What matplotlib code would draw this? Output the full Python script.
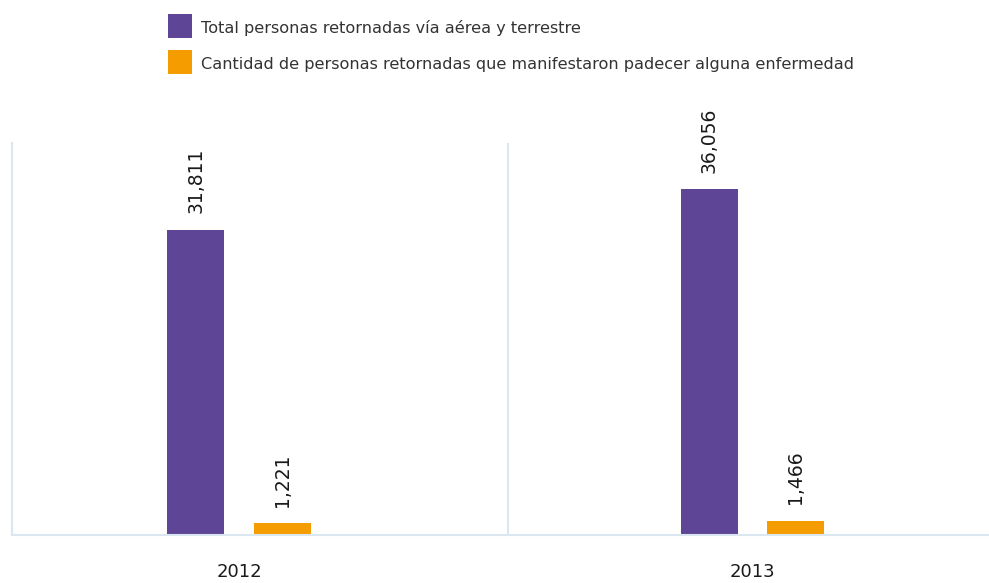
import matplotlib
matplotlib.use("Agg")
import matplotlib.pyplot as plt
from matplotlib.patches import Rectangle
import numpy as np

# Data
years = ["2012", "2013"]
total_retornados = [31811, 36056]
con_enfermedad = [1221, 1466]
series_labels = [
    "Total personas retornadas vía aérea y terrestre",
    "Cantidad de personas retornadas que manifestaron padecer alguna enfermedad",
]
colors = ["#5e4595", "#f59c00"]

plt.rcParams["font.family"] = ["DejaVu Sans"]

W, H = 989, 583
fig = plt.figure(figsize=(W / 100, H / 100), dpi=100)
ax = fig.add_axes([12 / W, (H - 535) / H, (W - 12) / W, 392 / H])

x = np.arange(len(years))
bw = 0.111
off = 0.084
b1 = ax.bar(x - off, total_retornados, bw, color=colors[0], label=series_labels[0])
b2 = ax.bar(x + off, con_enfermedad, bw, color=colors[1], label=series_labels[1])

for bars, vals in ((b1, total_retornados), (b2, con_enfermedad)):
    for rect, v in zip(bars, vals):
        ax.annotate(f"{v:,}", (rect.get_x() + rect.get_width() / 2, v),
                    xytext=(0, 12), textcoords="offset points",
                    rotation=90, ha="center", va="bottom",
                    fontsize=13.5, color="#1a1a1a")

ax.set_xlim(-0.442, 1.4606)
ax.set_ylim(0, 40900)

line_c = "#dbe7f0"
for s in ("top", "right"):
    ax.spines[s].set_visible(False)
for s in ("left", "bottom"):
    ax.spines[s].set_color(line_c)
    ax.spines[s].set_linewidth(1.5)
ax.axvline(0.5239, color=line_c, lw=1.5)

ax.set_yticks([])
ax.set_xticks(x)
ax.set_xticklabels(years, fontsize=13, color="#1a1a1a")
ax.tick_params(axis="x", length=0, pad=20)

# Legend: colour squares with labels, stacked at the top
for i, (lab, col) in enumerate(zip(series_labels, colors)):
    top = 14 + i * 36
    fig.add_artist(Rectangle((168 / W, 1 - (top + 24) / H), 24 / W, 24 / H,
                             transform=fig.transFigure, color=col, lw=0))
    fig.text(201 / W, 1 - (top + 19.5) / H, lab, fontsize=11.6,
             color="#333333", ha="left", va="baseline")

fig.savefig("out.png", dpi=100)
